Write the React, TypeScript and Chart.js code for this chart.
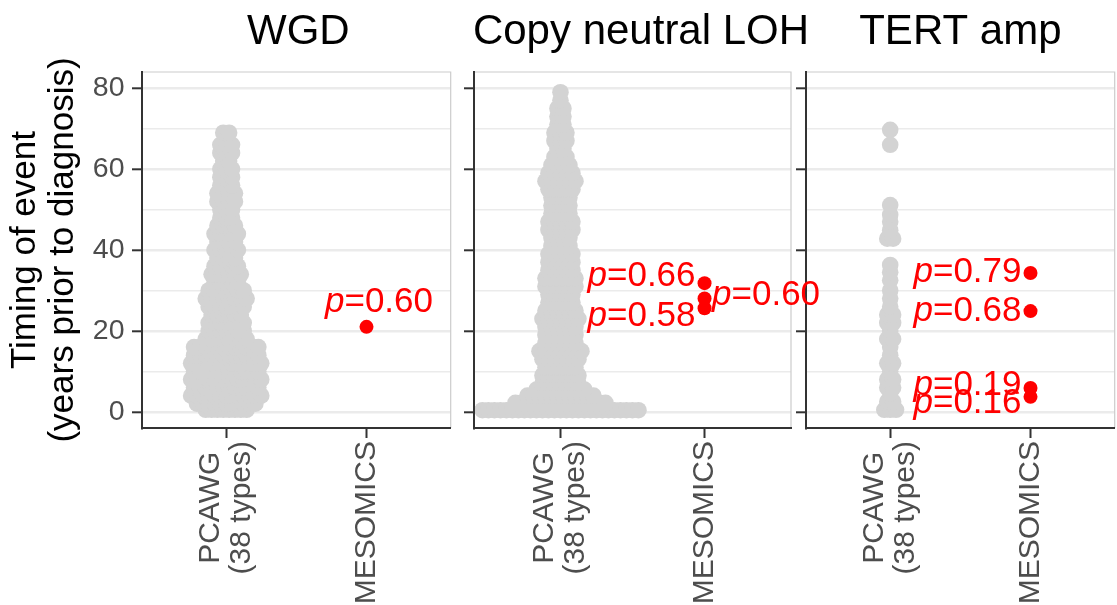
import React, { useEffect, useRef } from 'react';
import { Chart, registerables } from 'chart.js';

Chart.register(...registerables);

const FONT = '"Liberation Sans", Arial, Helvetica, sans-serif';

// ---------------- data ----------------
const facetTitles = ['WGD', 'Copy neutral LOH', 'TERT amp'];
const xCategories = ['PCAWG\n(38 types)', 'MESOMICS'];
const yGridTicks = [0, 10, 20, 30, 40, 50, 60, 70, 80];
const yLabelTicks = [0, 20, 40, 60, 80];
const yAxisTitle = ['Timing of event', '(years prior to diagnosis)'];

// PCAWG swarms: timing (years prior to diagnosis) of each swarm row and number of samples in it
const wgdPcawgYears = [0.5, 2, 4, 6, 8, 10, 12, 14, 16, 18, 20, 22, 24, 26, 28, 30, 32, 34, 36, 38, 40, 42, 44, 46, 48, 50, 52, 54, 56, 58, 60, 62, 64, 66, 69];
const wgdPcawgCounts = [8, 11, 13, 12, 13, 12, 13, 12, 12, 8, 7, 7, 6, 7, 8, 7, 5, 6, 5, 4, 5, 4, 5, 4, 3, 3, 4, 4, 3, 3, 3, 2, 3, 3, 2];

const cnlohPcawgYears = [0.4, 2.2, 4, 5.5, 7, 9, 11, 13, 15, 17, 19, 21, 23, 25, 27, 29, 31, 33, 35, 37, 39, 41, 43, 45, 47, 49, 51, 53, 55, 57, 59, 61, 63, 65, 67, 69, 71, 73, 75, 77, 79];
const cnlohPcawgCounts = [27, 16, 12, 9, 7, 7, 6, 7, 8, 6, 6, 6, 7, 6, 5, 5, 6, 6, 5, 5, 5, 4, 4, 5, 5, 4, 4, 4, 5, 6, 5, 4, 3, 2, 3, 3, 2, 2, 2, 1, 1];

const tertPcawgYears = [0.5, 2.5, 4.5, 6, 8, 10, 12, 14, 16, 18, 20, 22, 24, 26, 28, 30, 32.5, 34.5, 36.3, 42.8, 44.9, 47, 48.7, 51.1, 66, 69.7];
const tertPcawgCounts = [3, 2, 1, 2, 2, 1, 2, 1, 1, 2, 1, 2, 2, 1, 1, 1, 1, 1, 1, 2, 1, 1, 1, 1, 1, 1];

// MESOMICS values with p-values, and where each p-value label sits (years)
const wgdMesoYears = [21.0];
const wgdPValues = ['0.60'];
const wgdLabelYears = [27.0];
const wgdLabelSides = ['above'];

const cnlohMesoYears = [31.8, 28.0, 25.6];
const cnlohPValues = ['0.66', '0.60', '0.58'];
const cnlohLabelYears = [33.6, 28.7, 23.7];
const cnlohLabelSides = ['left', 'right', 'left'];

const tertMesoYears = [34.3, 24.9, 5.9, 3.7];
const tertPValues = ['0.79', '0.68', '0.19', '0.16'];
const tertLabelYears = [34.4, 24.9, 6.6, 2.1];
const tertLabelSides = ['left', 'left', 'left', 'left'];

const panels = [
  { title: facetTitles[0], pcawgYears: wgdPcawgYears, pcawgCounts: wgdPcawgCounts, mesoYears: wgdMesoYears, pValues: wgdPValues, labelYears: wgdLabelYears, labelSides: wgdLabelSides },
  { title: facetTitles[1], pcawgYears: cnlohPcawgYears, pcawgCounts: cnlohPcawgCounts, mesoYears: cnlohMesoYears, pValues: cnlohPValues, labelYears: cnlohLabelYears, labelSides: cnlohLabelSides },
  { title: facetTitles[2], pcawgYears: tertPcawgYears, pcawgCounts: tertPcawgCounts, mesoYears: tertMesoYears, pValues: tertPValues, labelYears: tertLabelYears, labelSides: tertLabelSides },
];

// ---------------- layout / style ----------------
const PANEL_LEFT = [142, 474, 806];
const PANEL_W = 317;
const PANEL_TOP = 72;
const PANEL_BOTTOM = 428;
const CANVAS_H = 605;
const AXIS_W = [142, 10, 10];
const EXTRA_RIGHT = [0, 40, 0];
const Z = [1, 3, 2];
const TITLE_NUDGE = [2, 8.5, 0];
const SWARM_STEP = 6; // px between neighbouring points in a swarm row
const GREY = '#D3D3D3';
const RED = '#FF0000';
const AXIS_COLOR = '#333333';
const TEXT_GREY = '#4D4D4D';
const GRID = '#EBEBEB';
const P_SIZE = 35;
const X_LABEL_SIZE = 30;

function drawPLabel(ctx: CanvasRenderingContext2D, pv: string, px: number, py: number, side: string) {
  ctx.font = `italic ${P_SIZE}px ${FONT}`;
  const wp = ctx.measureText('p').width;
  ctx.font = `${P_SIZE}px ${FONT}`;
  const rest = '=' + pv;
  const wr = ctx.measureText(rest).width;
  const total = wp + wr;
  let start: number;
  if (side === 'left') start = px - 9 - total;
  else if (side === 'right') start = px + 7.5;
  else start = px + 12.5 - total / 2;
  ctx.textAlign = 'left';
  ctx.textBaseline = 'middle';
  ctx.fillStyle = RED;
  ctx.font = `italic ${P_SIZE}px ${FONT}`;
  ctx.fillText('p', start, py);
  ctx.font = `${P_SIZE}px ${FONT}`;
  ctx.fillText(rest, start + wp, py);
}

function makePanelChart(canvas: HTMLCanvasElement, i: number) {
  const p = panels[i];
  const xUnitsPerPx = 2.2 / PANEL_W;
  const grey: { x: number; y: number }[] = [];
  p.pcawgYears.forEach((yr, k) => {
    const n = p.pcawgCounts[k];
    for (let j = 0; j < n; j++) {
      grey.push({ x: 1 + (j - (n - 1) / 2) * SWARM_STEP * xUnitsPerPx, y: yr });
    }
  });
  const red = p.mesoYears.map((y) => ({ x: 2, y }));

  const decor = {
    id: 'decor' + i,
    beforeDatasetsDraw(chart: any) {
      const { ctx, chartArea: a } = chart;
      ctx.save();
      ctx.strokeStyle = '#CCCCCC';
      ctx.lineWidth = 1.2;
      ctx.beginPath();
      ctx.moveTo(a.left, a.top);
      ctx.lineTo(a.right, a.top);
      ctx.lineTo(a.right, a.bottom);
      ctx.stroke();
      ctx.restore();
    },
    afterDatasetsDraw(chart: any) {
      const { ctx, scales } = chart;
      ctx.save();
      p.pValues.forEach((pv, k) => {
        drawPLabel(ctx, pv, scales.x.getPixelForValue(2), scales.y.getPixelForValue(p.labelYears[k]), p.labelSides[k]);
      });
      ctx.restore();
    },
    afterDraw(chart: any) {
      const { ctx, chartArea: a, scales } = chart;
      ctx.save();
      // facet strip title
      ctx.fillStyle = '#000000';
      ctx.font = `42px ${FONT}`;
      ctx.textAlign = 'center';
      ctx.textBaseline = 'middle';
      ctx.fillText(p.title, (a.left + a.right) / 2 + TITLE_NUDGE[i], 32);
      // y axis title
      if (i === 0) {
        ctx.font = `35px ${FONT}`;
        yAxisTitle.forEach((line, j) => {
          ctx.save();
          ctx.translate(25 + j * 38.7, (a.top + a.bottom) / 2);
          ctx.rotate(-Math.PI / 2);
          ctx.fillText(line, 0, 0);
          ctx.restore();
        });
      }
      // x category labels (rotated 90deg, block ends at the axis, lines centred)
      ctx.fillStyle = TEXT_GREY;
      ctx.font = `${X_LABEL_SIZE}px ${FONT}`;
      ctx.textAlign = 'center';
      ctx.textBaseline = 'middle';
      xCategories.forEach((cat, k) => {
        const lines = cat.split('\n');
        const px = scales.x.getPixelForValue(k + 1);
        const blockW = Math.max(...lines.map((l) => ctx.measureText(l).width));
        lines.forEach((line, j) => {
          ctx.save();
          ctx.translate(px + (j - (lines.length - 1) / 2) * 31, a.bottom + 13 + blockW / 2);
          ctx.rotate(-Math.PI / 2);
          ctx.fillText(line, 0, 0);
          ctx.restore();
        });
      });
      ctx.restore();
    },
  };

  return new Chart(canvas, {
    type: 'scatter',
    data: {
      datasets: [
        { data: grey, backgroundColor: GREY, borderWidth: 0, pointRadius: 8.3, pointHoverRadius: 8.3, clip: 0 } as any,
        { data: red, backgroundColor: RED, borderWidth: 0, pointRadius: 7, pointHoverRadius: 7, clip: 0 } as any,
      ],
    },
    options: {
      responsive: false,
      animation: false,
      events: [],
      layout: { padding: { top: PANEL_TOP, right: EXTRA_RIGHT[i], left: 0, bottom: 0 } },
      plugins: { legend: { display: false }, tooltip: { enabled: false }, title: { display: false } },
      scales: {
        x: {
          type: 'linear',
          position: 'bottom',
          min: 0.4,
          max: 2.6,
          afterBuildTicks: (s: any) => {
            s.ticks = xCategories.map((_, k) => ({ value: k + 1 }));
          },
          afterFit: (s: any) => {
            s.height = CANVAS_H - PANEL_BOTTOM;
          },
          ticks: { display: false },
          grid: { display: true, drawOnChartArea: false, drawTicks: true, tickLength: 10, tickWidth: 2, tickColor: AXIS_COLOR },
          border: { display: true, color: AXIS_COLOR, width: 2, z: 1 },
        },
        y: {
          type: 'linear',
          position: 'left',
          min: -4,
          max: 84,
          afterBuildTicks: (s: any) => {
            s.ticks = yGridTicks.map((v) => ({ value: v }));
          },
          afterFit: (s: any) => {
            s.width = AXIS_W[i];
          },
          ticks: {
            display: i === 0,
            autoSkip: false,
            padding: 7.5,
            color: TEXT_GREY,
            font: { family: FONT, size: 28.5 },
            callback: (v: any) => (yLabelTicks.includes(Number(v)) ? String(v) : ''),
          },
          grid: {
            color: GRID,
            lineWidth: (c: any) => (c.tick && c.tick.value % 20 === 0 ? 2.6 : 1.6),
            drawTicks: true,
            tickLength: 10,
            tickWidth: 2,
            tickColor: (c: any) => (c.tick && c.tick.value % 20 === 0 ? AXIS_COLOR : 'rgba(0,0,0,0)'),
          },
          border: { display: true, color: AXIS_COLOR, width: 2, z: 1 },
        },
      },
    } as any,
    plugins: [decor],
  });
}

export default function App() {
  const refs = useRef<(HTMLCanvasElement | null)[]>([]);
  useEffect(() => {
    const charts = panels.map((_, i) => makePanelChart(refs.current[i] as HTMLCanvasElement, i));
    return () => charts.forEach((c) => c.destroy());
  }, []);
  return (
    <div style={{ position: 'fixed', left: 0, top: 0, width: 1117, height: 605, overflow: 'hidden', background: '#ffffff' }}>
      {panels.map((_, i) => (
        <canvas
          key={i}
          ref={(el) => {
            refs.current[i] = el;
          }}
          width={AXIS_W[i] + PANEL_W + EXTRA_RIGHT[i]}
          height={CANVAS_H}
          style={{ position: 'absolute', left: PANEL_LEFT[i] - AXIS_W[i], top: 0, zIndex: Z[i], display: 'block' }}
        />
      ))}
    </div>
  );
}
